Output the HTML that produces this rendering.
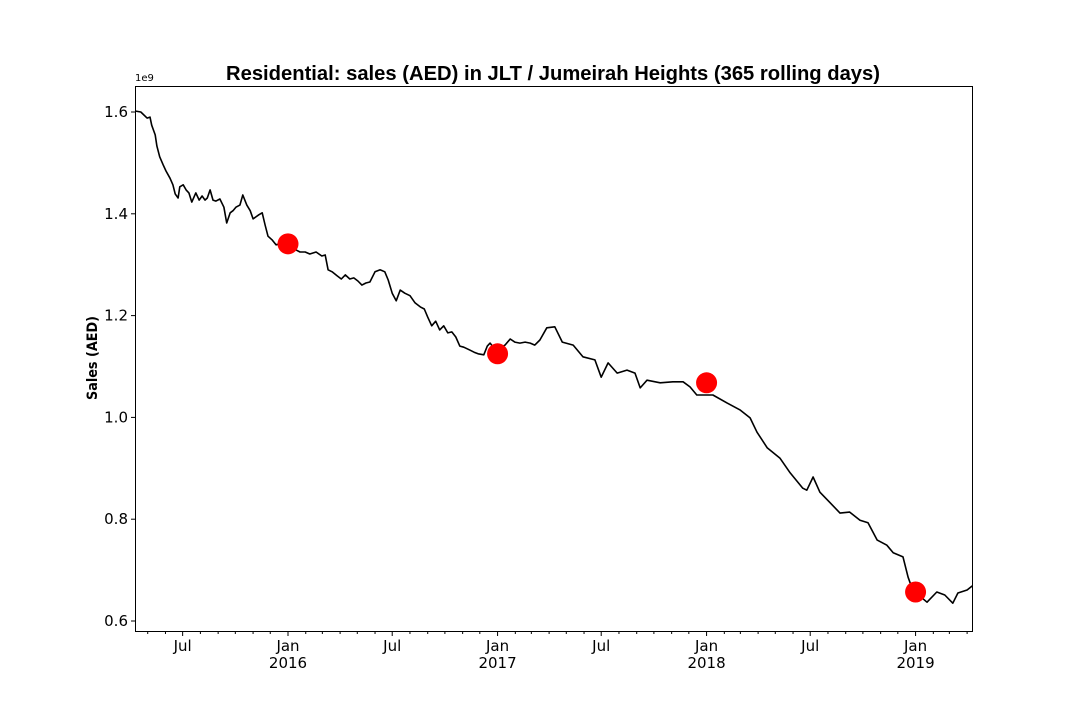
<!DOCTYPE html>
<html><head><meta charset="utf-8">
<style>
body{margin:0;background:#fff;}
svg{display:block;font-family:"DejaVu Sans","Liberation Sans",sans-serif;}
</style></head>
<body>
<svg id="chart" width="1080" height="720" xmlns="http://www.w3.org/2000/svg">
<rect x="0" y="0" width="1080" height="720" fill="#fff"/>
<text x="226" y="80" font-size="20" font-weight="bold" font-family="Liberation Sans, sans-serif" textLength="654" lengthAdjust="spacingAndGlyphs">Residential: sales (AED) in JLT / Jumeirah Heights (365 rolling days)</text>
<text transform="translate(97,358) rotate(-90)" text-anchor="middle" font-size="14" font-weight="bold" textLength="84" lengthAdjust="spacingAndGlyphs">Sales (AED)</text>
<text x="135" y="81" font-size="10">1e9</text>
<g id="axes"></g>
<g id="marks"></g>
<rect x="135.5" y="86.5" width="837" height="545" fill="none" stroke="#000" stroke-width="1"/>
</svg>
<script>
// day offsets from 2016-01-01
const days = [-267,-257,-246,-241,-238,-232,-229,-224,-218,-213,-206,-201,-197,-192,-189,-183,-178,-173,-168,-161,-155,-150,-145,-141,-136,-131,-126,-119,-112,-107,-101,-96,-91,-84,-79,-72,-66,-61,-56,-51,-45,-40,-35,-28,-21,-14,-5,14,21,30,38,49,59,65,70,77,86,93,100,108,115,122,129,136,143,152,161,169,175,182,189,196,204,213,222,231,238,244,251,258,265,272,279,286,293,300,307,318,325,332,342,348,353,360,370,379,388,396,405,414,423,431,440,452,466,479,498,515,536,547,559,575,592,606,615,627,650,672,690,702,714,742,767,789,807,819,837,859,877,899,906,917,929,947,964,981,999,1013,1029,1046,1057,1074,1083,1091,1116,1133,1147,1161,1170,1186,1195];
// sales in units of 1e9 AED
const sales = [1.602,1.600,1.588,1.590,1.574,1.555,1.533,1.512,1.496,1.484,1.470,1.457,1.439,1.431,1.453,1.457,1.447,1.441,1.423,1.441,1.427,1.435,1.427,1.431,1.447,1.427,1.425,1.429,1.413,1.382,1.402,1.406,1.413,1.417,1.437,1.417,1.406,1.390,1.394,1.398,1.402,1.378,1.356,1.349,1.339,1.341,1.341,1.329,1.325,1.325,1.321,1.325,1.317,1.319,1.290,1.286,1.278,1.272,1.280,1.272,1.274,1.268,1.260,1.264,1.266,1.286,1.290,1.286,1.270,1.244,1.229,1.250,1.244,1.239,1.225,1.217,1.213,1.197,1.180,1.189,1.172,1.180,1.166,1.168,1.158,1.140,1.138,1.132,1.128,1.125,1.123,1.140,1.146,1.136,1.136,1.142,1.154,1.148,1.146,1.148,1.146,1.142,1.152,1.176,1.178,1.148,1.142,1.119,1.113,1.079,1.107,1.087,1.093,1.087,1.058,1.073,1.068,1.070,1.070,1.060,1.044,1.044,1.028,1.015,0.999,0.971,0.940,0.920,0.891,0.861,0.857,0.883,0.853,0.832,0.812,0.814,0.798,0.793,0.759,0.749,0.734,0.726,0.686,0.661,0.637,0.657,0.651,0.635,0.655,0.661,0.669];
const markerDays = [0,366,731,1096];
const markerSales = [1.341,1.125,1.068,0.657];
const yTicks = [0.6,0.8,1.0,1.2,1.4,1.6];
const yTickLabels = ["0.6","0.8","1.0","1.2","1.4","1.6"];

const NS="http://www.w3.org/2000/svg";
const X0=288, PXD=209/365;
function xS(d){return X0+d*PXD;}
function yS(v){return 621-(v-0.6)*509;}
function mk(tag,attrs,parent){const e=document.createElementNS(NS,tag);for(const k in attrs)e.setAttribute(k,attrs[k]);parent.appendChild(e);return e;}
const axes=document.getElementById('axes'), marks=document.getElementById('marks');

yTicks.forEach((t,i)=>{
  const y=yS(t);
  const tk=mk('line',{x1:131,x2:135,y1:y,y2:y,stroke:'#000','stroke-width':1},axes);
  
  
  const lb=mk('text',{x:128,y:y+5,'text-anchor':'end','font-size':15},axes);
  
  
  lb.textContent=yTickLabels[i];
});

const base=Date.UTC(2016,0,1);
for(let yr=2015;yr<=2019;yr++){for(let m=0;m<12;m++){
  const d=Math.round((Date.UTC(yr,m,1)-base)/86400000);
  if(d<-267||d>1195)continue;
  const x=xS(d);
  const major=(m===0||m===6);
  const tk=mk('line',{x1:x,x2:x,y1:631,y2:major?636:634,stroke:'#000','stroke-width':1},axes);
  
  
  if(major){
    const lb=mk('text',{x:x,y:651,'text-anchor':'middle','font-size':15},axes);
    
    
    lb.textContent=m===0?'Jan':'Jul';
    if(m===0){
      const l2=mk('text',{x:x,y:668,'text-anchor':'middle','font-size':15},axes);
      
      
      l2.textContent=String(yr);
    }
  }
}}

let dstr='';
days.forEach((d,i)=>{dstr+=(i?'L':'M')+xS(d).toFixed(1)+','+yS(sales[i]).toFixed(1);});
const line=mk('path',{d:dstr,fill:'none',stroke:'#000','stroke-width':1.6,'stroke-linejoin':'round'},marks);



markerDays.forEach((d,i)=>{
  const c=mk('circle',{cx:xS(d),cy:yS(markerSales[i]),r:10.5,fill:'#ff0000'},marks);
  
  
});
</script>
</body></html>
